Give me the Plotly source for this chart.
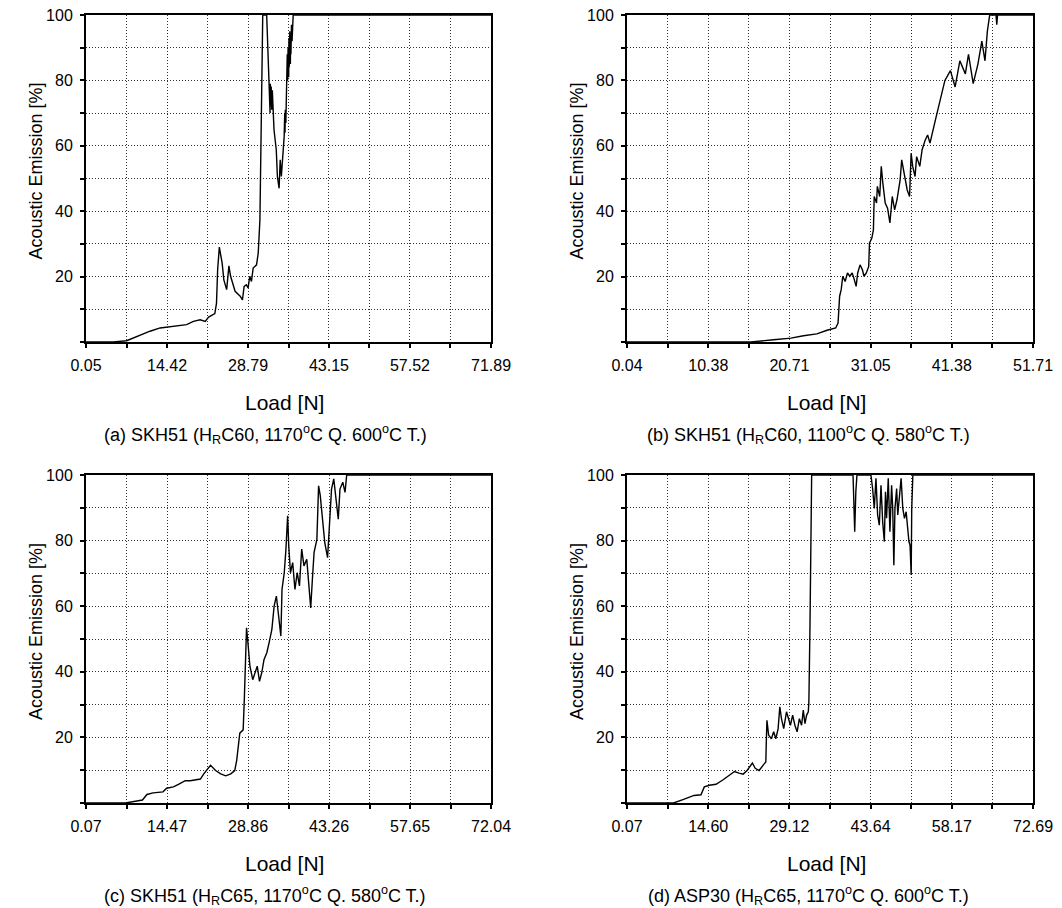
import plotly.graph_objects as go

W, H = 1062, 908          # target page size
OFF = 8                   # default page body margin in the exported html
FW, FH = W - OFF, H - OFF # figure size so the figure ends at the page edge
FONT = "Liberation Sans, Arial, Helvetica, sans-serif"

# ---------------- data ----------------
xticks_a = [0.05, 14.42, 28.79, 43.15, 57.52, 71.89]
xticks_b = [0.04, 10.38, 20.71, 31.05, 41.38, 51.71]
xticks_c = [0.07, 14.47, 28.86, 43.26, 57.65, 72.04]
xticks_d = [0.07, 14.60, 29.12, 43.64, 58.17, 72.69]
ytick_vals = [0, 10, 20, 30, 40, 50, 60, 70, 80, 90, 100]
ytick_text = ["", "", "20", "", "40", "", "60", "", "80", "", "100"]

load_a = [0.05, 4.9, 7.26, 9.63, 11.4, 13.2, 15.5, 17.9, 19.1, 20.3, 21.2, 21.8, 22.9, 23.2, 23.4,
          23.7, 24.2, 24.5, 25.0, 25.4, 25.7, 26.5, 27.4, 27.8, 28.1, 28.5, 28.8, 29.1, 29.4, 29.7,
          30.3, 30.6, 30.9, 31.1, 31.3, 31.4, 32.1, 32.3, 32.5, 32.6, 32.7, 32.75, 32.8, 32.9, 33.0,
          33.1, 33.2, 33.4, 33.8, 34.0, 34.3, 34.5, 34.7, 35.0, 35.2, 35.3, 35.35, 35.4, 35.5, 35.6,
          35.65, 35.7, 35.75, 35.8, 35.9, 36.0, 36.05, 36.1, 36.2, 36.3, 36.35, 36.4, 36.5, 36.6, 36.8,
          71.89]
ae_a = [0, 0, 0.4, 2.2, 3.3, 4.3, 4.8, 5.3, 6.3, 6.8, 6.3, 7.6, 8.7, 11.9, 22.1,
        29.0, 24.1, 19.0, 16.0, 23.3, 20.1, 15.5, 14.0, 12.9, 17.0, 17.5, 16.5, 20.1, 18.5, 22.6,
        23.6, 27.2, 37.4, 60.8, 86.3, 100, 100, 91.3, 83.2, 76.0, 70.0, 79.0, 72.0, 78.1, 71.0,
        77.0, 73.0, 64.9, 58.8, 50.6, 47.0, 55.7, 50.6, 56.7, 62.8, 70.0, 64.0, 71.0, 67.0, 78.0,
        72.0, 76.0, 88.0, 80.0, 90.0, 81.0, 93.0, 84.0, 95.0, 85.0, 94.0, 88.0, 97.0, 92.0, 100,
        100]

load_b = [0.04, 15.8, 18.7, 20.9, 22.5, 24.2, 25.5, 26.6, 26.9, 27.1, 27.3, 27.5, 27.8, 28.1, 28.4,
          28.7, 28.9, 29.2, 29.4, 29.7, 30.0, 30.2, 30.5, 30.8, 30.9, 31.2, 31.4, 31.5, 31.8, 31.9,
          32.2, 32.4, 32.6, 32.9, 33.2, 33.5, 33.8, 34.1, 34.4, 34.8, 35.0, 35.3, 35.7, 36.0, 36.2,
          36.4, 36.7, 36.9, 37.3, 37.6, 38.0, 38.3, 38.6, 39.3, 39.9, 40.5, 41.2, 41.8, 42.4, 43.1,
          43.5, 44.1, 44.7, 45.2, 45.6, 45.9, 46.2, 47.0, 47.1, 47.2, 51.71]
ae_b = [0, 0, 0.7, 1.2, 1.9, 2.5, 3.6, 4.3, 5.8, 14.0, 16.0, 20.1, 18.5, 21.1, 20.1,
        21.1, 19.6, 17.0, 21.1, 23.6, 22.1, 20.1, 21.1, 23.1, 30.2, 31.8, 34.3, 44.5, 42.5, 47.6,
        44.5, 53.7, 48.6, 42.5, 40.9, 36.4, 44.5, 40.4, 43.5, 49.6, 55.7, 51.6, 46.5, 44.5, 57.7,
        53.7, 50.6, 56.7, 53.7, 58.8, 61.8, 63.3, 60.8, 68, 74, 80, 83, 78, 86, 82,
        88, 79, 85, 92, 86, 95, 100, 100, 97, 100, 100]

load_c = [0.07, 7.1, 10.1, 10.9, 12.0, 13.75, 14.4, 15.6, 16.5, 17.7, 18.6, 20.4, 21.0, 22.2, 23.1,
          24.0, 24.9, 25.8, 26.5, 26.85, 27.4, 28.0, 28.2, 28.45, 28.6, 28.9, 29.2, 29.7, 30.1, 30.5,
          30.9, 31.3, 31.7, 32.2, 32.6, 33.1, 33.5, 33.9, 34.3, 34.7, 34.9, 35.3, 35.6, 35.9, 36.1,
          36.4, 36.8, 37.2, 37.6, 38.0, 38.4, 38.8, 39.3, 39.8, 40.0, 40.3, 40.6, 41.1, 41.4, 41.7,
          42.1, 42.5, 43.0, 43.3, 43.7, 44.1, 44.5, 44.9, 45.2, 45.7, 46.1, 46.4, 72.04]
ae_c = [0, 0, 0.9, 2.6, 3.1, 3.4, 4.5, 4.9, 5.7, 6.8, 6.8, 7.3, 8.9, 11.5, 9.9,
        8.9, 8.3, 8.9, 9.9, 13.0, 21.3, 22.3, 31.5, 43.7, 53.4, 47.8, 41.7, 37.6, 39.7, 41.7,
        37.1, 39.7, 43.7, 45.8, 48.8, 52.9, 60.0, 63.1, 57.0, 50.9, 65.1, 70.2, 77.4, 87.6, 78.4,
        70.2, 73.3, 65.1, 70.2, 66.2, 77.4, 72.3, 74.3, 65.1, 59.5, 68.2, 76.4, 80.4, 96.7, 93.7,
        85.5, 79.4, 74.8, 85.5, 95.7, 98.8, 92.7, 86.5, 95.7, 97.8, 94.7, 100, 100]

load_d = [0.07, 8.4, 10.2, 12.05, 13.3, 13.9, 14.8, 16.0, 17.2, 18.1, 19.3, 20.1, 20.85, 21.5, 22.1,
          22.5, 23.0, 23.7, 24.5, 24.9, 25.0, 25.1, 25.4, 25.9, 26.3, 26.7, 27.1, 27.4, 27.7, 28.1,
          28.6, 29.0, 29.3, 29.7, 30.1, 30.5, 30.9, 31.3, 31.6, 31.9, 32.2, 32.5, 32.6, 32.8, 32.9,
          33.1, 40.5, 40.6, 40.8, 41.0, 41.2, 43.7, 44.0, 44.3, 44.6, 44.9, 45.2, 45.5, 45.8, 46.1,
          46.3, 46.5, 46.8, 47.1, 47.4, 47.6, 47.8, 48.0, 48.3, 48.5, 48.8, 49.1, 49.4, 49.7, 50.0,
          50.3, 50.5, 50.7, 50.9, 51.0, 51.2, 72.69]
ae_d = [0, 0, 1.1, 2.3, 2.5, 4.9, 5.4, 5.7, 7.0, 8.0, 9.6, 9.1, 8.8, 9.8, 11.1,
        12.2, 10.6, 9.9, 11.7, 12.5, 19.6, 25.2, 20.7, 19.6, 21.7, 19.6, 22.7, 29.3, 25.7, 22.7,
        27.8, 25.7, 23.7, 26.8, 23.7, 21.7, 25.7, 23.7, 28.3, 24.2, 26.8, 27.8, 30.8, 54.2, 79.7,
        100, 100, 89.8, 82.7, 94.9, 100, 100, 95.9, 89.8, 99, 87.8, 84.7, 96.9, 85.8, 79.7,
        94.9, 86.8, 99, 82.7, 96.9, 89.8, 72.5, 89.8, 95.9, 87.8, 93.9, 99, 89.8, 86.8, 88.8,
        83.7, 79.7, 78.6, 69.5, 89.8, 100, 100]

captions = [
    "(a) SKH51 (H<sub>R</sub>C60, 1170<sup>o</sup>C Q. 600<sup>o</sup>C T.)",
    "(b) SKH51 (H<sub>R</sub>C60, 1100<sup>o</sup>C Q. 580<sup>o</sup>C T.)",
    "(c) SKH51 (H<sub>R</sub>C65, 1170<sup>o</sup>C Q. 580<sup>o</sup>C T.)",
    "(d) ASP30 (H<sub>R</sub>C65, 1170<sup>o</sup>C Q. 600<sup>o</sup>C T.)",
]
x_title = "Load [N]"
y_title = "Acoustic Emission [%]"

panels = [
    (load_a, ae_a, xticks_a),
    (load_b, ae_b, xticks_b),
    (load_c, ae_c, xticks_c),
    (load_d, ae_d, xticks_d),
]

# ---------------- layout (page pixels) ----------------
cols = [(86, 491), (627, 1033)]
rows = [(15, 342), (475, 803)]
cap_x = [265, 808]
ytitle_x = [36, 577]
ytitle_dy = -7
xtitle_dy = 60
cap_dy = 92

def px(x):
    return (x - OFF) / FW

def py(y):
    return 1 - (y - OFF) / FH

fig = go.Figure()
layout = dict(
    template="none",
    width=FW, height=FH, autosize=False,
    margin=dict(l=0, r=0, t=0, b=0, pad=0),
    paper_bgcolor="white", plot_bgcolor="white",
    showlegend=False,
    font=dict(family=FONT, color="black"),
)
annotations = []

for i, (xs, ys, xt) in enumerate(panels):
    assert len(xs) == len(ys)
    r, c = divmod(i, 2)
    x0, x1 = cols[c]
    y0, y1 = rows[r]
    suffix = "" if i == 0 else str(i + 1)
    fig.add_trace(go.Scatter(
        x=xs, y=ys, mode="lines",
        line=dict(color="black", width=1.4),
        xaxis="x" + suffix, yaxis="y" + suffix,
        hoverinfo="skip",
    ))
    gridvals = []
    gridtext = []
    for k in range(len(xt)):
        gridvals.append(xt[k])
        gridtext.append(f"{xt[k]:.2f}")
        if k < len(xt) - 1:
            gridvals.append((xt[k] + xt[k + 1]) / 2)
            gridtext.append("")
    common = dict(
        automargin=False,
        showline=True, linecolor="black", linewidth=2, mirror=True,
        showgrid=True, gridcolor="#333", gridwidth=1, griddash="1px,2px",
        zeroline=False, ticks="outside", ticklen=4, tickwidth=1.5, tickcolor="black",
        tickfont=dict(family=FONT, size=16, color="black"),
        ticklabeloverflow="allow",
        fixedrange=True,
    )
    layout["xaxis" + suffix] = dict(
        common, domain=[px(x0), px(x1)], anchor="y" + suffix,
        range=[xt[0], xt[-1]], tickmode="array", tickvals=gridvals, ticktext=gridtext,
        ticklabelstandoff=4,
    )
    layout["yaxis" + suffix] = dict(
        common, domain=[py(y1), py(y0)], anchor="x" + suffix,
        range=[0, 100], tickmode="array", tickvals=ytick_vals, ticktext=ytick_text,
        ticklabelstandoff=4,
    )
    annotations.append(dict(
        text=y_title, xref="paper", yref="paper",
        x=px(ytitle_x[c]), y=py((y0 + y1) / 2 + ytitle_dy),
        xanchor="center", yanchor="middle", textangle=-90, showarrow=False,
        font=dict(family=FONT, size=18, color="black"),
    ))
    annotations.append(dict(
        text=x_title, xref="paper", yref="paper",
        x=px((x0 + x1) / 2 - 4), y=py(y1 + xtitle_dy),
        xanchor="center", yanchor="middle", showarrow=False,
        font=dict(family=FONT, size=21, color="black"),
    ))
    annotations.append(dict(
        text=captions[i], xref="paper", yref="paper",
        x=px(cap_x[c]), y=py(y1 + cap_dy),
        xanchor="center", yanchor="middle", showarrow=False,
        font=dict(family=FONT, size=18, color="black"),
    ))

layout["annotations"] = annotations
fig.update_layout(**layout)
fig.write_html("out.html")
